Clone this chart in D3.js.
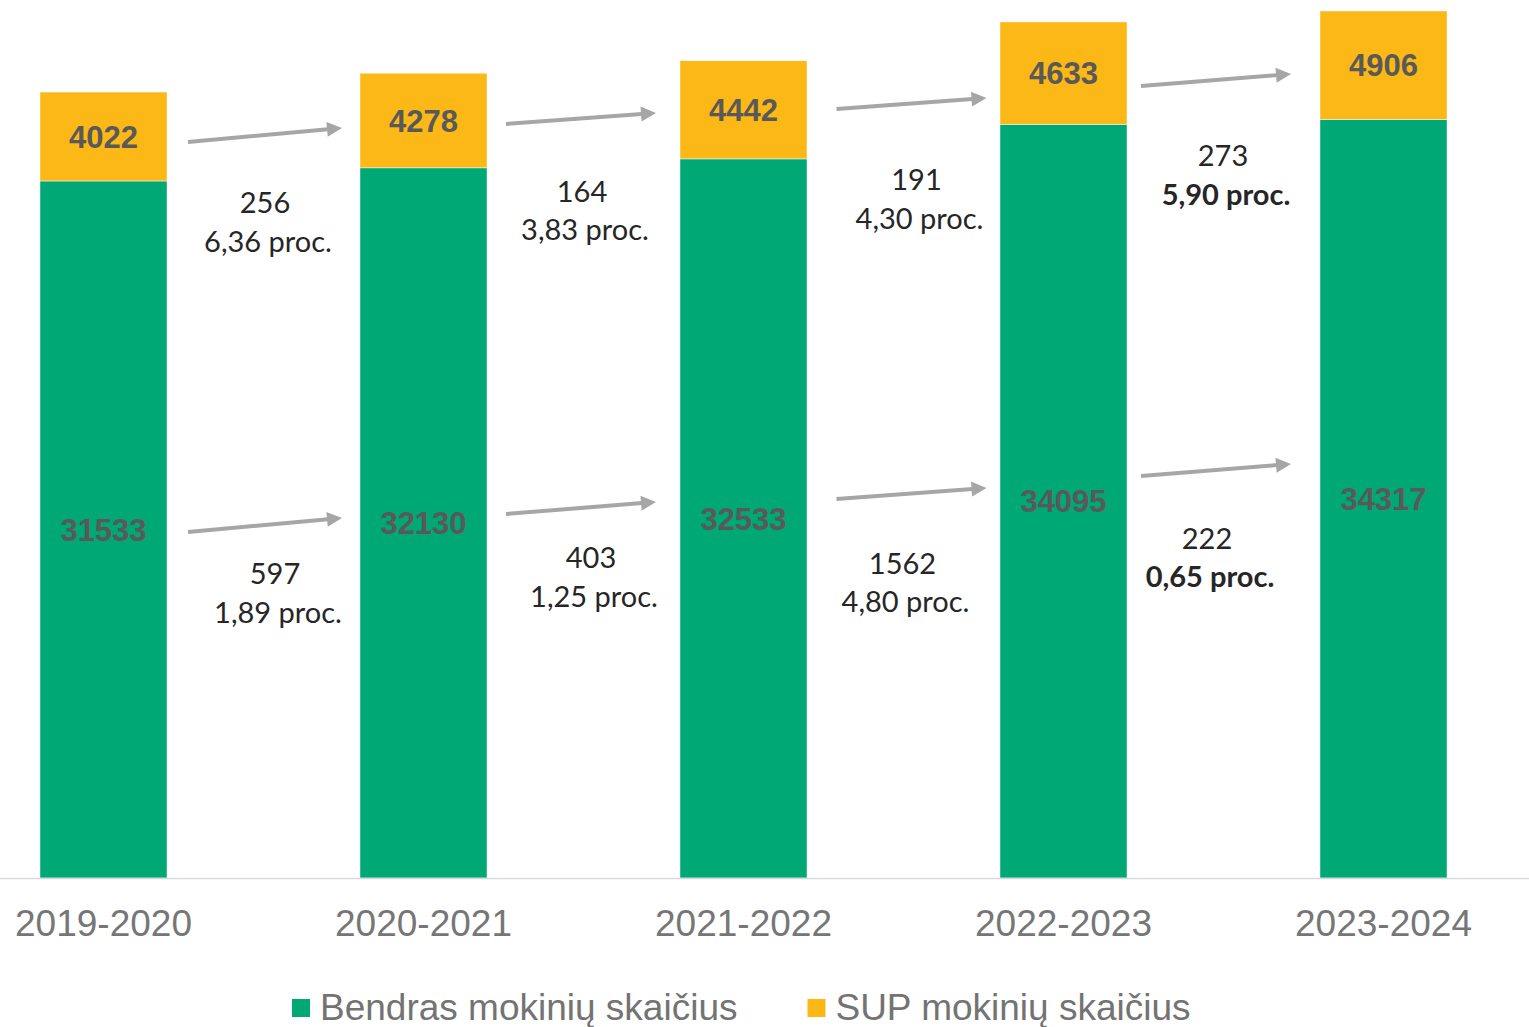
<!DOCTYPE html>
<html><head><meta charset="utf-8">
<script src="https://cdn.jsdelivr.net/npm/d3@7"></script>
<style>html,body{margin:0;padding:0;background:#fff;overflow:hidden}</style>
</head><body>
<svg id="chart" width="1529" height="1027"></svg>
<script>
const categories = ["2019-2020","2020-2021","2021-2022","2022-2023","2023-2024"];
const bendras = [31533,32130,32533,34095,34317];
const sup = [4022,4278,4442,4633,4906];
const seriesNames = ["Bendras mokinių skaičius","SUP mokinių skaičius"];

const supChange = ["256","164","191","273"];
const supPct = ["6,36 proc.","3,83 proc.","4,30 proc.","5,90 proc."];
const supPctBold = [false,false,false,true];
const bendrasChange = ["597","403","1562","222"];
const bendrasPct = ["1,89 proc.","1,25 proc.","4,80 proc.","0,65 proc."];
const bendrasPctBold = [false,false,false,true];

// annotation anchor levels (value units)
const supArrowFrom = [33296,34110,34789,35829];
const supArrowTo = [33929,34608,35286,36372];
const supLabelLevel = [30084,30582,31124,32210];
const bendArrowFrom = [15653,16467,17145,18186];
const bendArrowTo = [16286,17010,17643,18729];
const bendLabelLevel = [13300,14024,13753,14884];

// annotation layout nudges (px, relative to gap centre)
const layout = {
  arrowShift: [1.5, -2.5, 8, -7.5],
  arrowLen: [154, 150, 150, 150],
  supLabelShift: [4.5, 1.5, 16, 2.5],
  bendLabelShift: [14.5, 10.5, 2, -13.5]
};

const W = 1529, H = 1027;
const GREEN = "#00A875", YELLOW = "#FBB817";
const svg = d3.select("#chart");

const x = d3.scaleBand().domain(categories).range([-56.5, 1543.5]).paddingInner(0.603).paddingOuter(0.3015);
const y = d3.scaleLinear().domain([0, 39720]).range([878, 0]);

const stackData = categories.map((c,i)=>({cat:c, bendras:bendras[i], sup:sup[i]}));
const stack = d3.stack().keys(["bendras","sup"])(stackData);
const colors = [GREEN, YELLOW];

stack.forEach((layer, li) => {
  const g = svg.append("g");
  g.selectAll("rect").data(layer).join("rect")
    .attr("x", d => x(d.data.cat))
    .attr("width", x.bandwidth())
    .attr("y", d => y(d[1]))
    .attr("height", d => y(d[0]) - y(d[1]))
    .attr("fill", colors[li])
    .attr("stroke", "#ffffff").attr("stroke-width", 0.8).attr("stroke-opacity", 0.6);
  g.selectAll("text").data(layer).join("text")
    .attr("x", d => x(d.data.cat) + x.bandwidth()/2)
    .attr("y", d => (y(d[0]) + y(d[1]))/2)
    .attr("dy", "0.36em")
    .attr("text-anchor", "middle")
    .attr("font-family", "'Liberation Sans', Arial, sans-serif")
    .attr("font-weight", "bold")
    .attr("font-size", 31)
    .attr("fill", "#595959")
    .text(d => d[1] - d[0]);
});

// axis
const xAxis = d3.axisBottom(x).tickSize(0).tickPadding(32);
const ax = svg.append("g").attr("transform", "translate(0,878)").call(xAxis);
ax.select(".domain").remove();
ax.selectAll("text").attr("font-family", "'Liberation Sans', Arial, sans-serif").attr("font-size", 37).attr("fill", "#767676");
svg.append("line").attr("x1", 0).attr("x2", W).attr("y1", 878.5).attr("y2", 878.5).attr("stroke", "#d9d9d9").attr("stroke-width", 1.5);

// arrows and change labels
function drawArrow(x1, y1, x2, y2) {
  const ang = Math.atan2(y2 - y1, x2 - x1);
  const hl = 15, hw = 7.5;
  const bx = x2 - hl*Math.cos(ang), by = y2 - hl*Math.sin(ang);
  svg.append("line").attr("x1", x1).attr("y1", y1).attr("x2", bx + 1*Math.cos(ang)).attr("y2", by + 1*Math.sin(ang))
    .attr("stroke", "#a6a6a6").attr("stroke-width", 4);
  const pts = [[x2, y2],[bx - hw*Math.sin(ang), by + hw*Math.cos(ang)],[bx + hw*Math.sin(ang), by - hw*Math.cos(ang)]];
  svg.append("polygon").attr("points", pts.map(p=>p.join(",")).join(" ")).attr("fill", "#a6a6a6");
}
function drawLabel(cx, baseY, l1, l2, bold) {
  const t = svg.append("text").attr("font-family", "Lato, 'Open Sans', sans-serif").attr("font-size", 29).attr("fill", "#262626").attr("text-anchor", "middle");
  t.append("tspan").attr("x", cx - 3).attr("y", baseY).text(l1);
  t.append("tspan").attr("x", cx).attr("y", baseY + 38.5).attr("font-weight", bold ? "bold" : "normal").text(l2);
}
for (let i = 0; i < categories.length - 1; i++) {
  const gapC = (x(categories[i]) + x.bandwidth() + x(categories[i+1])) / 2;
  const am = gapC + layout.arrowShift[i];
  const xs = am - layout.arrowLen[i]/2, xe = am + layout.arrowLen[i]/2;
  drawArrow(xs, y(supArrowFrom[i]), xe, y(supArrowTo[i]));
  drawArrow(xs, y(bendArrowFrom[i]), xe, y(bendArrowTo[i]));
  drawLabel(gapC + layout.supLabelShift[i], y(supLabelLevel[i]), supChange[i], supPct[i], supPctBold[i]);
  drawLabel(gapC + layout.bendLabelShift[i], y(bendLabelLevel[i]), bendrasChange[i], bendrasPct[i], bendrasPctBold[i]);
}

// legend
const leg = svg.append("g");
let lx = 292;
seriesNames.forEach((name, i) => {
  leg.append("rect").attr("x", lx).attr("y", 999).attr("width", 18).attr("height", 18).attr("fill", colors[i]);
  const t = leg.append("text").attr("x", lx + 28).attr("y", 1020)
    .attr("font-family", "'Liberation Sans', Arial, sans-serif").attr("font-size", 37).attr("fill", "#737373").text(name);
  lx = lx + 28 + t.node().getComputedTextLength() + 70;
});
</script>
</body></html>
